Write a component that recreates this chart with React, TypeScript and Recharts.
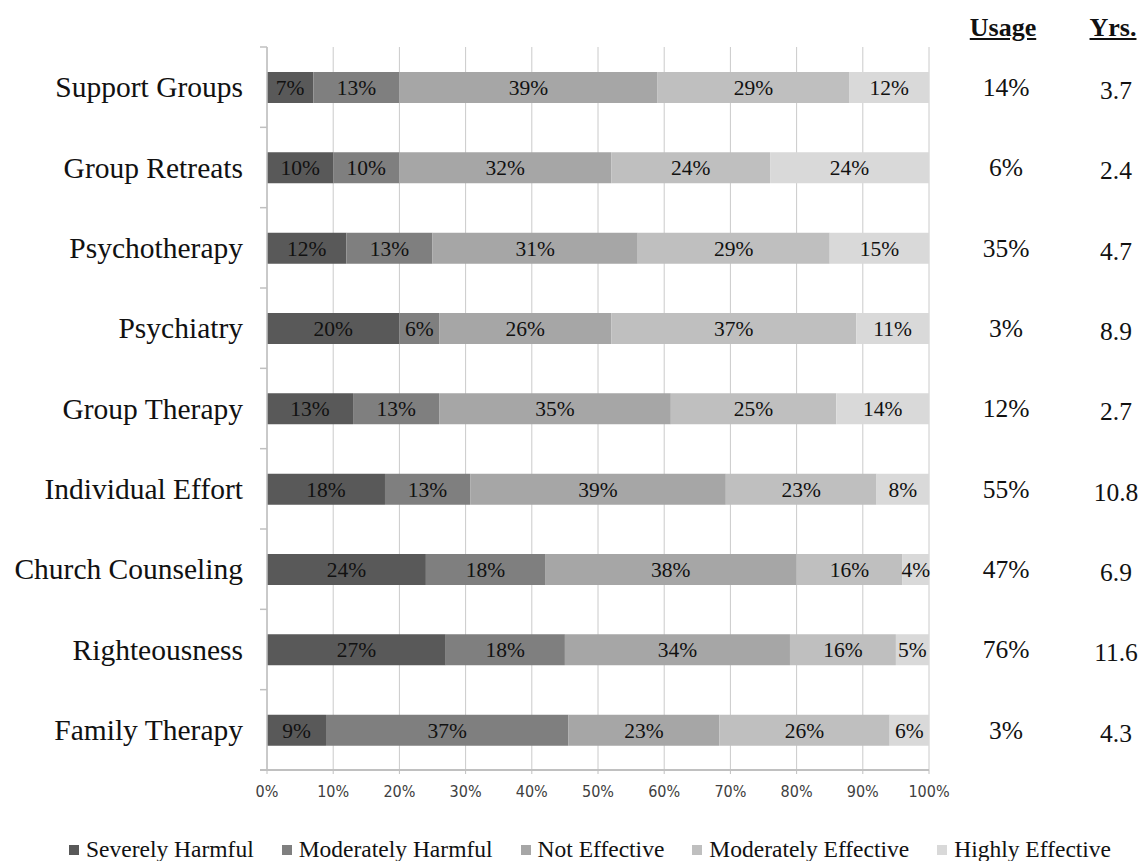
import { BarChart, Bar, XAxis, YAxis, CartesianGrid, Legend, LabelList } from "recharts";

const categories = [
  "Support Groups",
  "Group Retreats",
  "Psychotherapy",
  "Psychiatry",
  "Group Therapy",
  "Individual Effort",
  "Church Counseling",
  "Righteousness",
  "Family Therapy",
];

const severelyHarmful = [7, 10, 12, 20, 13, 18, 24, 27, 9];
const moderatelyHarmful = [13, 10, 13, 6, 13, 13, 18, 18, 37];
const notEffective = [39, 32, 31, 26, 35, 39, 38, 34, 23];
const moderatelyEffective = [29, 24, 29, 37, 25, 23, 16, 16, 26];
const highlyEffective = [12, 24, 15, 11, 14, 8, 4, 5, 6];

const usage = [14, 6, 35, 3, 12, 55, 47, 76, 3];
const years = [3.7, 2.4, 4.7, 8.9, 2.7, 10.8, 6.9, 11.6, 4.3];

const percentTicks = [0, 0.1, 0.2, 0.3, 0.4, 0.5, 0.6, 0.7, 0.8, 0.9, 1];

const series = [
  { key: "severe", name: "Severely Harmful", values: severelyHarmful },
  { key: "modHarm", name: "Moderately Harmful", values: moderatelyHarmful },
  { key: "notEff", name: "Not Effective", values: notEffective },
  { key: "modEff", name: "Moderately Effective", values: moderatelyEffective },
  { key: "highEff", name: "Highly Effective", values: highlyEffective },
];

const COLORS: Record<string, string> = {
  severe: "#595959",
  modHarm: "#7f7f7f",
  notEff: "#a6a6a6",
  modEff: "#bfbfbf",
  highEff: "#d9d9d9",
};

const data = categories.map((name, i) => {
  const row: Record<string, string | number> = { name };
  series.forEach((s) => {
    row[s.key] = s.values[i];
  });
  return row;
});

const SERIF = '"Liberation Serif", "Times New Roman", serif';
const NARROW = '"Liberation Sans Narrow", "DejaVu Sans Condensed", "Arial Narrow", sans-serif';
const AXIS = "#c0c0c0";

const W = 1145;
const H = 861;
const TOP = 47;
const BOTTOM = 770;
const BAND = (BOTTOM - TOP) / categories.length;

function CategoryTick(props: any) {
  const { x, y, payload, index } = props;
  const axisX = x + 24;
  const last = index === categories.length - 1;
  return (
    <g>
      <line x1={axisX - 7} x2={axisX} y1={y - BAND / 2} y2={y - BAND / 2} stroke={AXIS} strokeWidth={1.5} />
      {last && (
        <line x1={axisX - 7} x2={axisX} y1={y + BAND / 2} y2={y + BAND / 2} stroke={AXIS} strokeWidth={2} />
      )}
      <text x={x} y={y} dy="0.35em" textAnchor="end" fontFamily={SERIF} fontSize={29.5} fill="#111">
        {payload.value}
      </text>
    </g>
  );
}

function StatsTick(props: any) {
  const { x, y, payload } = props;
  const i = categories.indexOf(payload.value);
  return (
    <g fontFamily={SERIF} fontSize={25.5} fill="#111" textAnchor="middle">
      <text x={x + 77} y={y} dy="0.35em">
        {usage[i]}%
      </text>
      <text x={x + 187} y={y + 3} dy="0.35em">
        {years[i].toFixed(1)}
      </text>
    </g>
  );
}

function LegendContent() {
  return (
    <div style={{ display: "flex", alignItems: "center", fontFamily: SERIF, fontSize: 23.5, color: "#111", whiteSpace: "nowrap" }}>
      {series.map((s) => (
        <div key={s.key} style={{ display: "flex", alignItems: "center", marginRight: 28 }}>
          <span style={{ display: "inline-block", width: 10, height: 10, background: COLORS[s.key], marginRight: 7 }} />
          <span>{s.name}</span>
        </div>
      ))}
    </div>
  );
}

const headerStyle: React.CSSProperties = {
  position: "absolute",
  top: 12,
  fontFamily: SERIF,
  fontSize: 26,
  fontWeight: "bold",
  textDecoration: "underline",
  color: "#111",
  transform: "translateX(-50%)",
  lineHeight: "32px",
};

export default function App() {
  return (
    <div style={{ position: "absolute", left: 0, top: 0, width: W, height: H, background: "#fff" }}>
      <div style={{ ...headerStyle, left: 1003 }}>Usage</div>
      <div style={{ ...headerStyle, left: 1113 }}>Yrs.</div>
      <BarChart
        width={W}
        height={H}
        data={data}
        layout="vertical"
        stackOffset="expand"
        barSize={31}
        margin={{ top: TOP, right: 0, bottom: 61, left: 0 }}
      >
        <CartesianGrid horizontal={false} stroke="#cacaca" strokeWidth={1} />
        <XAxis
          type="number"
          domain={[0, 1]}
          ticks={percentTicks}
          tickFormatter={(v: number) => `${Math.round(v * 100)}%`}
          height={30}
          axisLine={{ stroke: AXIS, strokeWidth: 2 }}
          tickLine={{ stroke: AXIS }}
          tickSize={4}
          tickMargin={12}
          tick={{ fontFamily: NARROW, fontSize: 16, fill: "#404040" }}
        />
        <YAxis
          type="category"
          dataKey="name"
          width={267}
          interval={0}
          tickSize={0}
          tickMargin={24}
          tickLine={false}
          axisLine={{ stroke: AXIS, strokeWidth: 1.5 }}
          tick={<CategoryTick />}
        />
        <YAxis
          yAxisId="stats"
          orientation="right"
          type="category"
          dataKey="name"
          width={216}
          interval={0}
          tickSize={0}
          tickMargin={0}
          tickLine={false}
          axisLine={false}
          tick={<StatsTick />}
        />
        <Legend
          layout="horizontal"
          verticalAlign="middle"
          align="center"
          wrapperStyle={{ top: 836, left: 69, width: 1076 }}
          content={<LegendContent />}
        />
        {series.map((s) => (
          <Bar key={s.key} dataKey={s.key} name={s.name} stackId="a" fill={COLORS[s.key]} isAnimationActive={false}>
            <LabelList
              dataKey={s.key}
              position="center"
              formatter={(v: any) => `${v}%`}
              style={{ fontFamily: SERIF, fontSize: 21.5, fill: "#111" }}
            />
          </Bar>
        ))}
      </BarChart>
    </div>
  );
}
